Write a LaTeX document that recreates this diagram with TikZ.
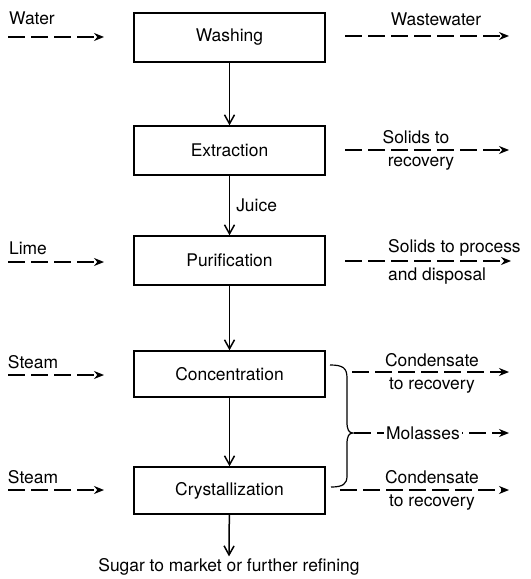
\documentclass[tikz,border=0pt]{standalone}
\usepackage{fontspec}
\setmainfont{TeX Gyre Heros}
\usetikzlibrary{arrows.meta}
\begin{document}
\begin{tikzpicture}[x=1bp,y=-1bp,
  font=\fontsize{17.5}{20}\selectfont,
  stage/.style={draw, line width=1.4bp, minimum width=191bp, minimum height=49bp, inner sep=0pt},
  mainflow/.style={line width=1.5bp, -{Straight Barb[length=9bp,width=10bp,line width=1.5bp]}},
  sideflow/.style={line width=1.4bp, dash pattern=on 17bp off 6bp, -{Stealth[length=10bp,width=8bp]}},
  lbl/.style={inner sep=0pt}]
\useasboundingbox (0,0) rectangle (531,579);

% process stages
\node[stage] (wash) at (229.5,37.5) {Washing};
\node[stage] (extr) at (229.5,150.5) {Extraction};
\node[stage] (puri) at (229.5,260.5) {Purification};
\node[stage, minimum height=46bp] (conc) at (229.5,374) {Concentration};
\node[stage, minimum height=47bp] (crys) at (229.5,490.5) {Crystallization};

% main product line
\draw[mainflow] (wash) -- (extr);
\draw[mainflow] (extr) -- node[lbl, right=6bp] (juice) {Juice} (puri);
\draw[mainflow] (puri) -- (conc);
\draw[mainflow] (conc) -- (crys);
\node[lbl] (sugar) at (229,567) {Sugar to market or further refining};
\draw[mainflow] (crys) -- ([yshift=2bp]sugar.north);

% inputs on the left
\node[lbl] (water) at (32,18) {Water};
\coordinate (win) at (8,37);
\coordinate (wend) at (104,37);
\draw[sideflow] (win) -- (wend);

\node[lbl] (lime) at (28,248) {Lime};
\coordinate (lin) at (8,262);
\coordinate (lend) at (104,262);
\draw[sideflow] (lin) -- (lend);

\node[lbl] (steam1) at (33,362) {Steam};
\coordinate (s1in) at (8,375);
\coordinate (s1end) at (104,375);
\draw[sideflow] (s1in) -- (s1end);

\node[lbl] (steam2) at (33,477) {Steam};
\coordinate (s2in) at (8,490);
\coordinate (s2end) at (104,490);
\draw[sideflow] (s2in) -- (s2end);

% outputs on the right
\coordinate (wwin) at (345,36);
\coordinate (wwend) at (509,36);
\draw[sideflow] (wwin) -- (wwend);
\node[lbl] (waste) at (436,19) {Wastewater};

\coordinate (srin) at (345,150);
\coordinate (srend) at (509,150);
\draw[sideflow] (srin) -- (srend);
\node[lbl] (sr1) at (416,137) {Solids to};
\node[lbl] (sr2) at (421,164) {recovery};

\coordinate (spin) at (345,261);
\coordinate (spend) at (511,261);
\draw[sideflow] (spin) -- (spend);
\node[lbl, anchor=west] (sp1) at (388,248) {Solids to process};
\node[lbl, anchor=west] (sp2) at (388,276) {and disposal};

\coordinate (c1in) at (352,372);
\coordinate (c1end) at (509,372);
\draw[sideflow] (c1in) -- (c1end);
\node[lbl] (cr1) at (432,360) {Condensate};
\node[lbl] (cr2) at (432,386) {to recovery};

% molasses leaving both evaporation stages
\draw[line width=1.2bp]
  (330,365) .. controls (343,365) and (347,368) .. (347,378)
  -- (347,422) .. controls (347,430) and (349,433) .. (353,433)
  .. controls (349,433) and (347,436) .. (347,444)
  -- (347,476) .. controls (347,484) and (343,487) .. (331,487);
\coordinate (min) at (354,433);
\coordinate (mend) at (509,433);
\draw[sideflow] (min) -- (mend);
\node[lbl, fill=white, inner xsep=2bp, inner ysep=1bp] (mol) at (423,433) {Molasses};

\coordinate (c2in) at (340,490);
\coordinate (c2end) at (509,490);
\draw[sideflow] (c2in) -- (c2end);
\node[lbl] (cr3) at (432,477) {Condensate};
\node[lbl] (cr4) at (432,503) {to recovery};
\end{tikzpicture}
\end{document}
